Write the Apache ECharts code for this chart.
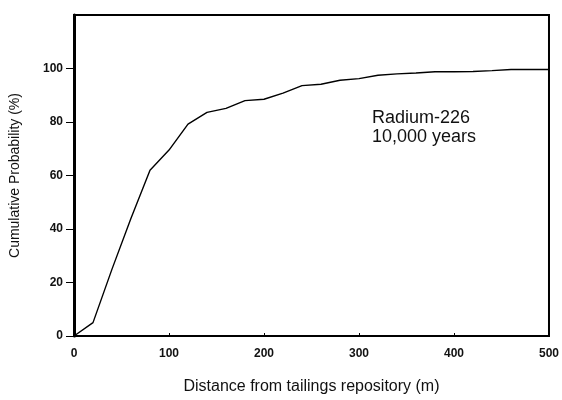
<!DOCTYPE html>
<html><head><meta charset="utf-8">
<script src="https://cdn.jsdelivr.net/npm/echarts@6/dist/echarts.min.js"></script>
<style>html,body{margin:0;padding:0;background:#fff}#c{width:562px;height:400px}</style>
</head><body><div id="c"></div>
<script>
var distances = [0,20,40,60,80,100,120,140,160,180,200,220,240,260,280,300,320,340,360,380,400,420,440,460,480,500];
var cumulativeProb = [0,5,25,44,62,69.5,79.2,83.6,85.1,88,88.5,90.8,93.6,94.1,95.6,96.2,97.5,98,98.3,98.8,98.8,98.9,99.2,99.6,99.6,99.6];
var xTicks = [0,100,200,300,400,500];
var yTicks = [0,20,40,60,80,100];
var annotation = ['Radium-226','10,000 years'];

var chart = echarts.init(document.getElementById('c'));
var font = '"Liberation Sans", Arial, sans-serif';
chart.setOption({
  animation:false,
  backgroundColor:'#fff',
  grid:{left:71,right:13,top:15,bottom:54,show:true,borderColor:'#000',borderWidth:2,backgroundColor:'transparent'},
  xAxis:{type:'value',min:0,max:500,interval:100,
    name:'Distance from tailings repository (m)',nameLocation:'middle',nameGap:43,
    nameTextStyle:{fontFamily:font,fontSize:16,color:'#111'},
    axisLine:{show:true,lineStyle:{color:'#000',width:2}},
    axisTick:{show:true,inside:true,length:3,lineStyle:{color:'#000'}},
    axisLabel:{fontFamily:font,fontSize:12,fontWeight:'bold',color:'#111',margin:12,
      formatter:function(v){return xTicks.indexOf(v)>=0?String(v):'';}},
    splitLine:{show:false}},
  yAxis:{type:'value',min:0,max:120,interval:20,
    name:'Cumulative Probability (%)',nameLocation:'middle',nameGap:52,nameRotate:90,
    nameTextStyle:{fontFamily:font,fontSize:14,color:'#111'},
    axisLine:{show:true,lineStyle:{color:'#000',width:3}},
    axisTick:{show:true,length:8,lineStyle:{color:'#000'}},
    axisLabel:{fontFamily:font,fontSize:12,fontWeight:'bold',color:'#111',margin:11,showMaxLabel:false,
      formatter:function(v){return yTicks.indexOf(v)>=0?String(v):'';}},
    splitLine:{show:false}},
  series:[{type:'line',data:distances.map(function(d,i){return [d,cumulativeProb[i]];}),
    symbol:'none',lineStyle:{color:'#000',width:1.4}}],
  graphic:[{type:'text',left:372,top:109,style:{text:annotation.join('\n'),font:'18px '+font,fill:'#111',lineHeight:19}}]
});
</script></body></html>
